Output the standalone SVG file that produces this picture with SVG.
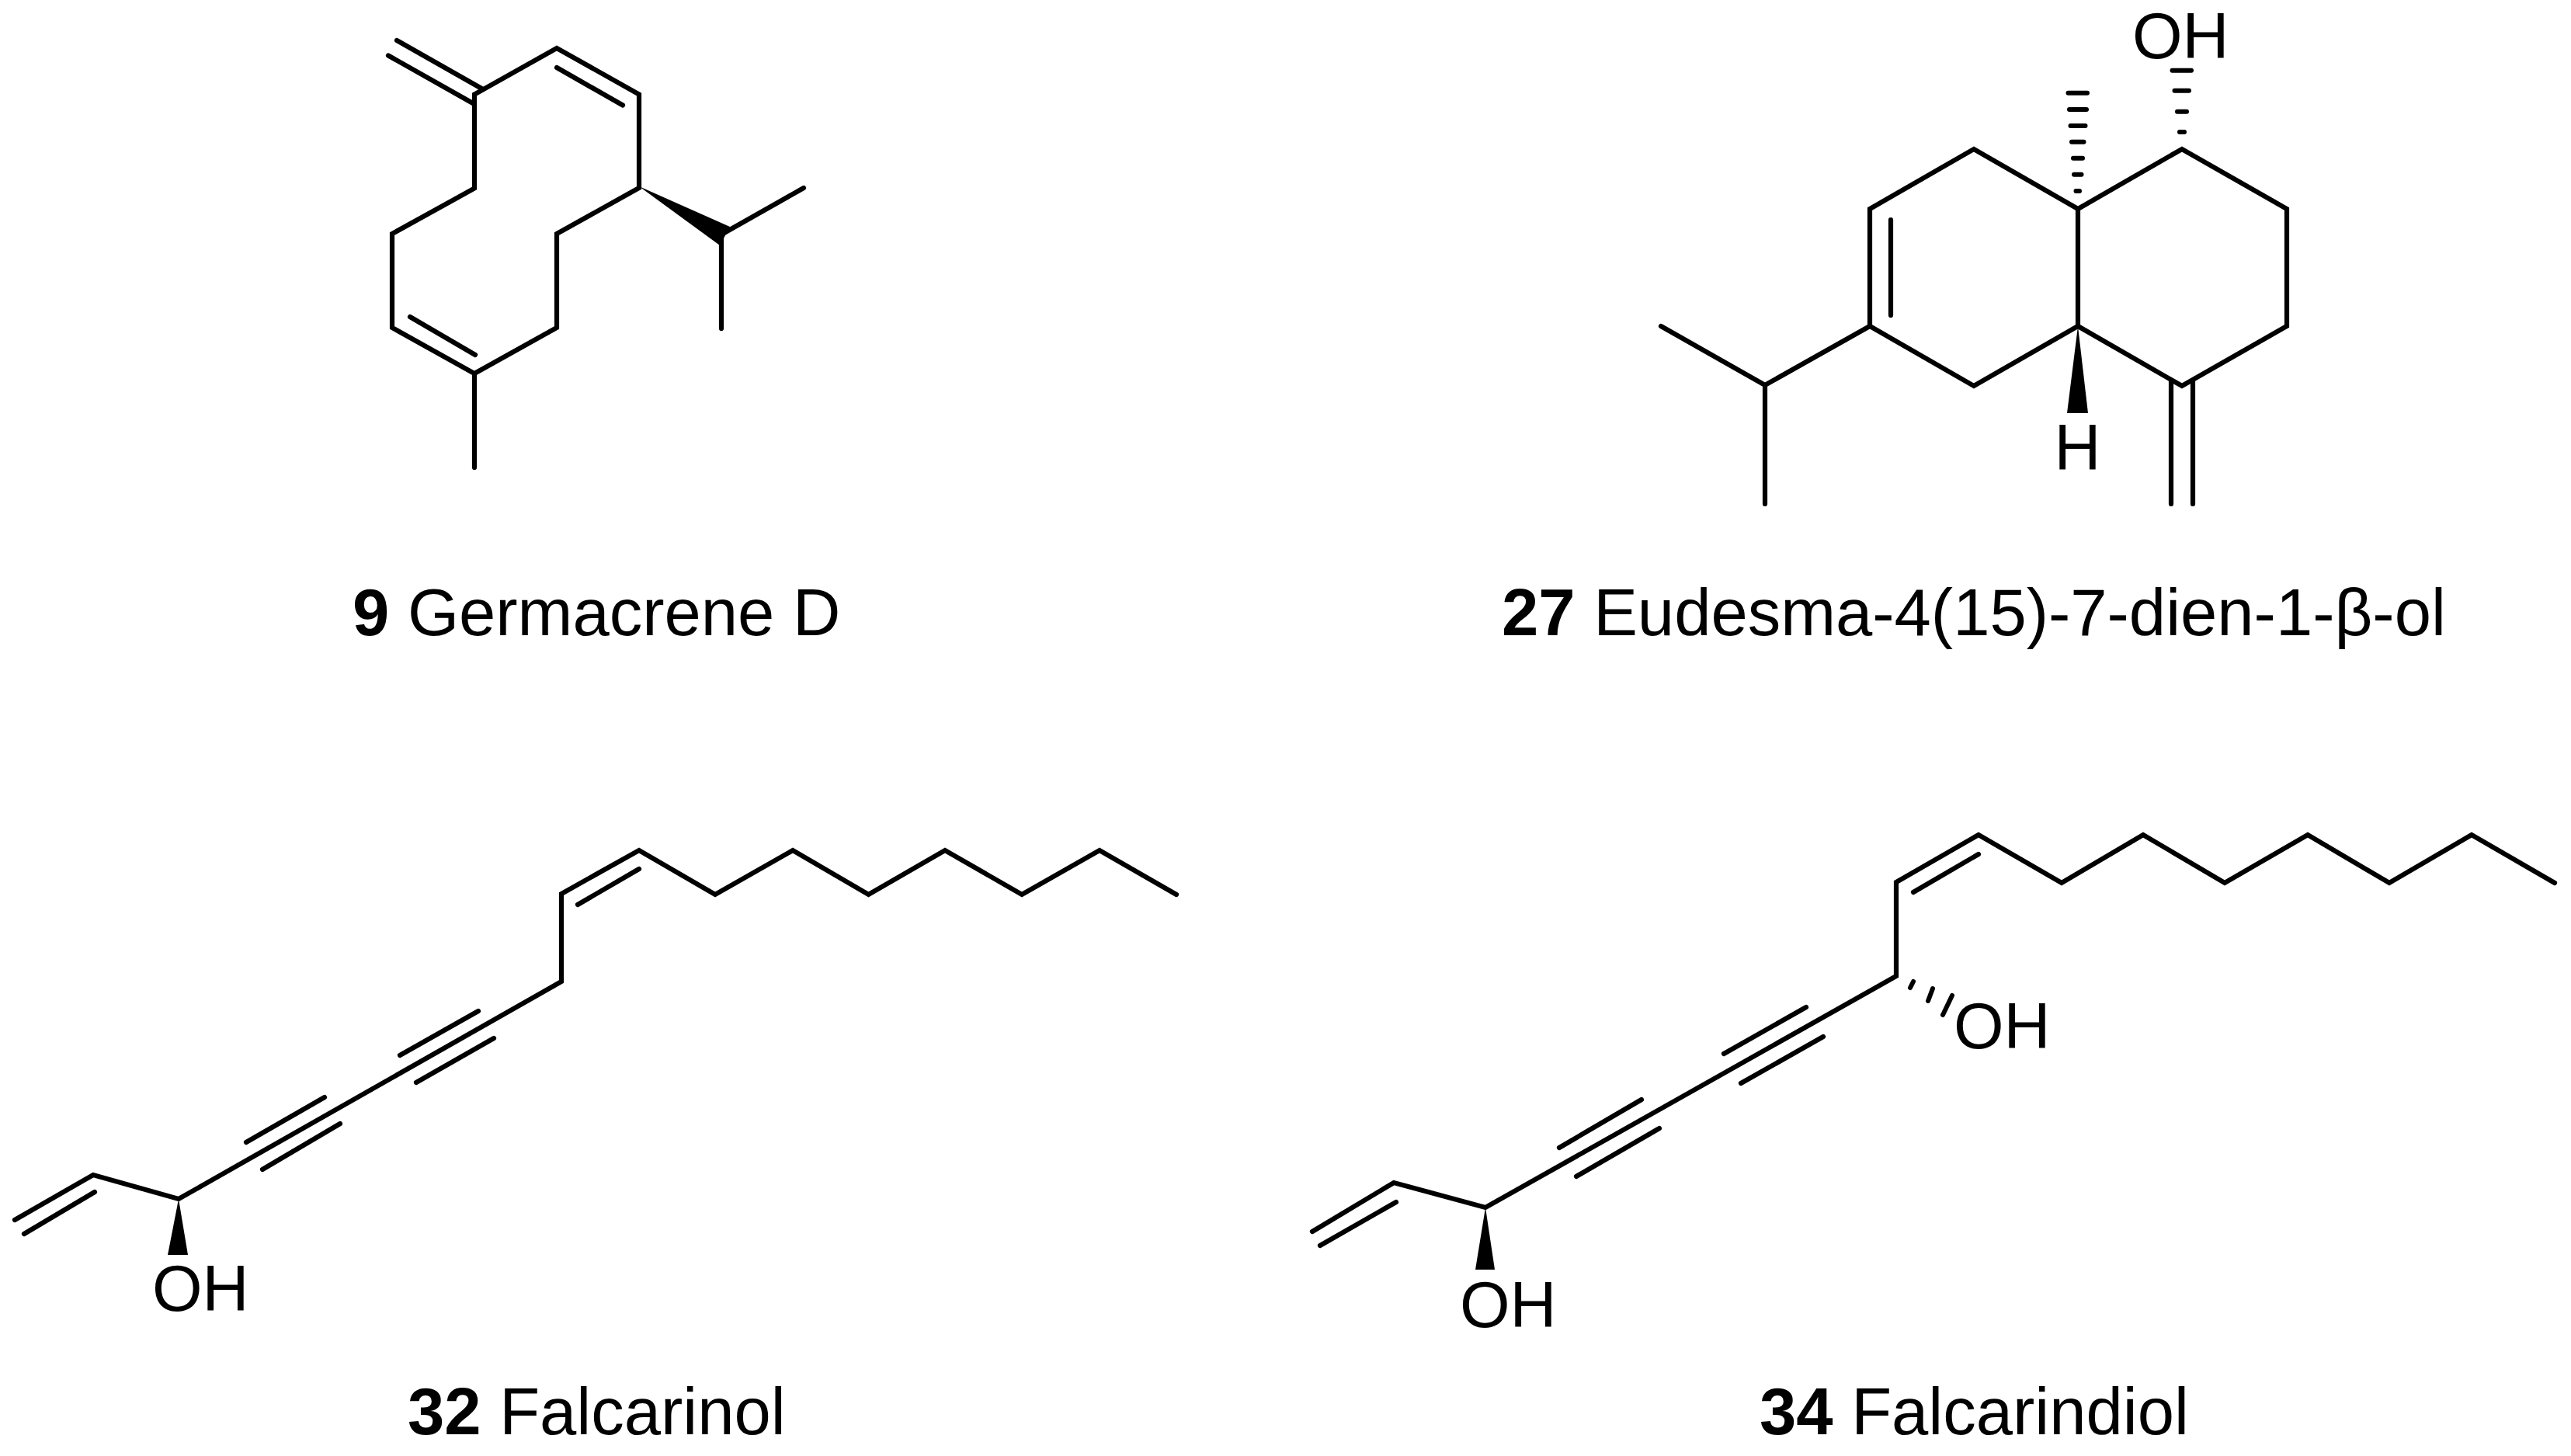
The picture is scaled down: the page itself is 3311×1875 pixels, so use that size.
<svg xmlns="http://www.w3.org/2000/svg" width="3311" height="1875" viewBox="0 0 3311 1875">
<style>
.b{fill:none;stroke:#000;stroke-width:6.200;stroke-linejoin:miter;stroke-linecap:round}
.w{fill:#000;stroke:none}
.h{stroke:#000;stroke-width:6;stroke-linecap:round;fill:none}
text{font-family:"Liberation Sans",Arial,sans-serif;fill:#000;font-kerning:none}
.a{font-size:83px}
.l{font-size:85px}
.n{font-weight:bold}
</style>
<rect width="3311" height="1875" fill="#fff"/>
<g id="germacrene-d">
<path class="b" d="M611 602V481L505 422V301L611 242.500V121.500L717 62L823 121.500V242L717 301V422L611 481"/>
<path class="b" d="M528 408L612 457M717 87L802 135.500M511 52L622 115M500 71.500L609 133M929 302L1035 242M929 302V423"/>
<polygon class="w" points="823,240 940,292 927,316"/>
<text class="l" x="454" y="818"><tspan class="n">9</tspan> Germacrene D</text>
</g>
<g id="eudesmadienol">
<path class="b" d="M2676 269L2542 192L2408 269V420L2542 497L2676 420V269L2810 192L2945 269V420L2810 497L2676 420"/>
<path class="b" d="M2435 283V406M2408 420L2273 496L2139 420M2273 496V649M2796 490V649M2824 490V649"/>
<polygon class="w" points="2676,420 2689,532 2662,532"/>
<path class="h" d="M2663.500 119.700H2688M2665 141H2687M2666.500 162H2685.500M2668 182.700H2683.500M2670 203.700H2682M2671 224.700H2680.500M2673.500 246H2678"/>
<path class="h" d="M2797.500 90.700H2822M2800.500 116.700H2819M2804 143.700H2816M2807 170H2813"/>
<text class="a" x="2746" y="74.700">OH</text>
<text class="a" x="2645.500" y="604.700">H</text>
<text class="l" x="1934" y="818"><tspan class="n">27</tspan> Eudesma-4(15)-7-dien-1-β-ol</text>
</g>
<g id="falcarinol">
<path class="b" d="M19 1571L120 1513L230 1544L723 1264V1151L823 1095L921 1152L1021 1095L1118.500 1152L1217 1095L1316 1152L1416 1095L1515 1152"/>
<path class="b" d="M31 1589L122 1535M317 1471L418 1413M338 1506L438 1447M515 1359L616 1302M536 1394L636 1337M744 1165L823 1119"/>
<polygon class="w" points="230,1544 242,1616 216,1616"/>
<text class="a" x="196" y="1688">OH</text>
<text class="l" x="525" y="1847"><tspan class="n">32</tspan> Falcarinol</text>
</g>
<g id="falcarindiol">
<path class="b" d="M1690 1586L1795 1523L1913 1555L2442 1257V1136L2548 1075L2655 1137L2760 1075L2865 1137L2972 1075L3077 1137L3183 1075L3290 1137"/>
<path class="b" d="M1700 1604L1798 1548M2008 1478L2114 1416M2030 1515L2137 1453M2220 1357L2326 1297M2242 1395L2348 1335M2464 1149L2548 1100"/>
<polygon class="w" points="1913,1555 1925,1635 1900,1635"/>
<path class="h" d="M2464 1264L2460 1272M2489 1273L2483 1289M2514 1282L2502 1307"/>
<text class="a" x="1880" y="1709">OH</text>
<text class="a" x="2516" y="1350">OH</text>
<text class="l" x="2266" y="1847"><tspan class="n">34</tspan> Falcarindiol</text>
</g>
</svg>
